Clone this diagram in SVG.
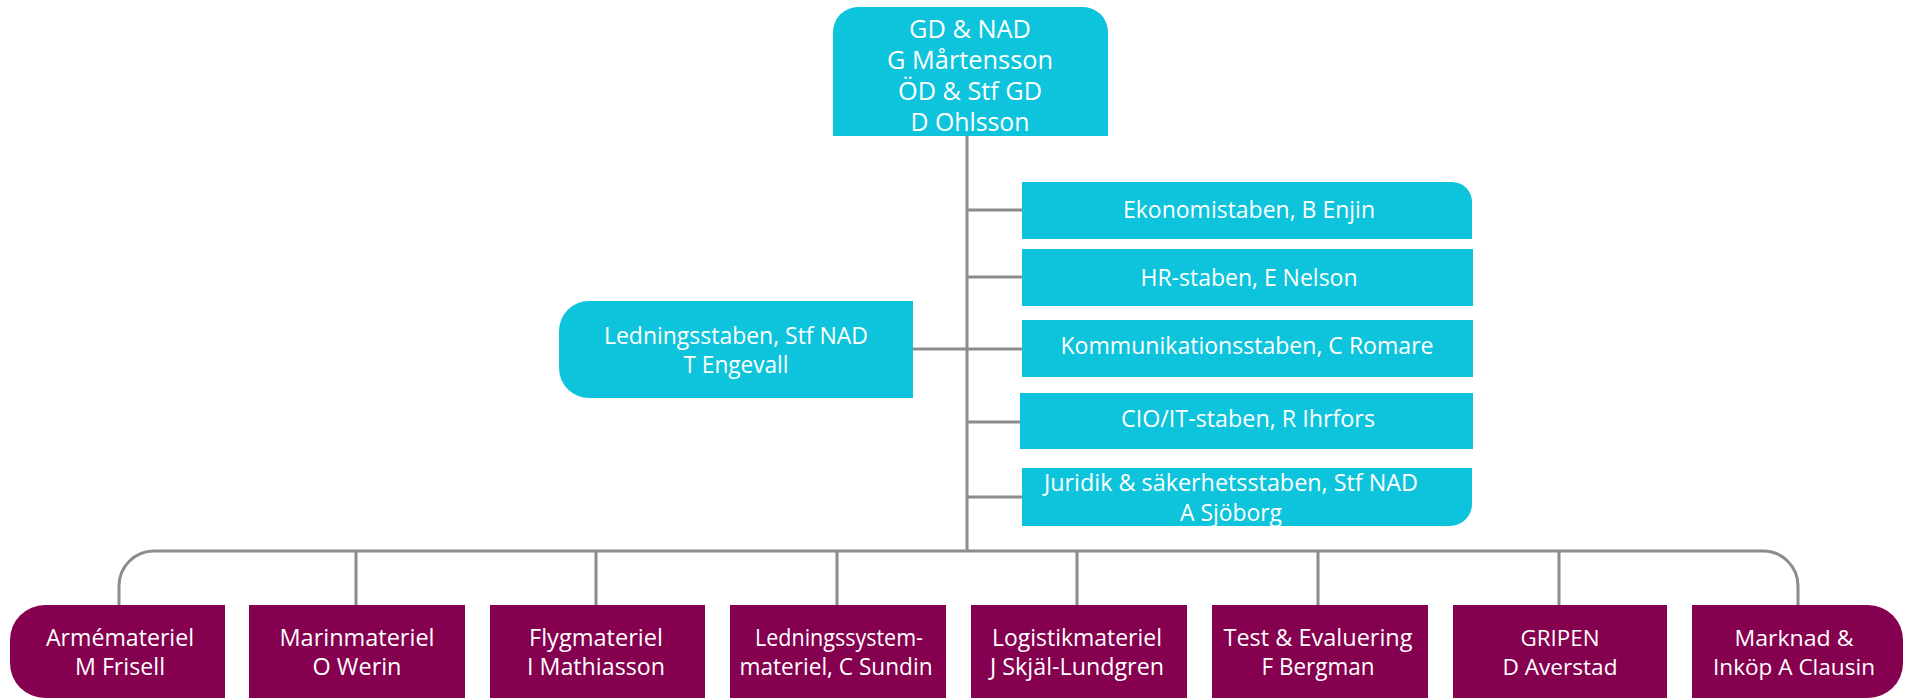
<svg xmlns="http://www.w3.org/2000/svg" width="1905" height="698" viewBox="0 0 1905 698">
<style>
.c{fill:#0EC4DC}
.p{fill:#860050}
.t{font-family:"Open Sans","Liberation Sans",sans-serif;fill:#ffffff;text-anchor:middle}
.k{stroke:#8C8C8C;stroke-width:3;fill:none}
</style>
<rect x="0" y="0" width="1905" height="698" fill="#ffffff"/>
<g id="connectors">
<path class="k" d="M967,136 V551"/>
<path class="k" d="M967,210 H1022 M967,277 H1022 M967,349 H1022 M967,422 H1022 M967,497 H1022"/>
<path class="k" d="M913,349 H967"/>
<path class="k" d="M119,605 V586 A35,35 0 0 1 154,551 H1763 A35,35 0 0 1 1798,586 V605"/>
<path class="k" d="M356,551 V605 M596,551 V605 M837,551 V605 M1077,551 V605 M1318,551 V605 M1559,551 V605"/>
</g>
<g id="gd">
<path class="c" d="M833,136 V32 A25,25 0 0 1 858,7 H1083 A25,25 0 0 1 1108,32 V136 Z"/>
<text class="t" font-size="25" x="970" y="38" textLength="122" lengthAdjust="spacingAndGlyphs">GD &amp; NAD</text>
<text class="t" font-size="25" x="970" y="69" textLength="166" lengthAdjust="spacingAndGlyphs">G Mårtensson</text>
<text class="t" font-size="25" x="970" y="100" textLength="144" lengthAdjust="spacingAndGlyphs">ÖD &amp; Stf GD</text>
<text class="t" font-size="25" x="970" y="131" textLength="119" lengthAdjust="spacingAndGlyphs">D Ohlsson</text>
</g>
<g id="ekonomi">
<path class="c" d="M1022,182 H1452 A20,20 0 0 1 1472,202 V239 H1022 Z"/>
<text class="t" font-size="23" x="1249" y="218" textLength="252" lengthAdjust="spacingAndGlyphs">Ekonomistaben, B Enjin</text>
</g>
<g id="hr">
<rect class="c" x="1022" y="249" width="451" height="57"/>
<text class="t" font-size="23" x="1249" y="286" textLength="217" lengthAdjust="spacingAndGlyphs">HR-staben, E Nelson</text>
</g>
<g id="kommunikation">
<rect class="c" x="1022" y="320" width="451" height="57"/>
<text class="t" font-size="23" x="1247" y="354" textLength="373" lengthAdjust="spacingAndGlyphs">Kommunikationsstaben, C Romare</text>
</g>
<g id="cio">
<rect class="c" x="1020" y="393" width="453" height="56"/>
<text class="t" font-size="23" x="1248" y="427" textLength="254" lengthAdjust="spacingAndGlyphs">CIO/IT-staben, R Ihrfors</text>
</g>
<g id="juridik">
<path class="c" d="M1022,468 H1472 V504 A22,22 0 0 1 1450,526 H1022 Z"/>
<text class="t" font-size="23" x="1231" y="491" textLength="374" lengthAdjust="spacingAndGlyphs">Juridik &amp; säkerhetsstaben, Stf NAD</text>
<text class="t" font-size="23" x="1231" y="521" textLength="102" lengthAdjust="spacingAndGlyphs">A Sjöborg</text>
</g>
<g id="ledningsstaben">
<path class="c" d="M913,301 V398 H589 A30,30 0 0 1 559,368 V331 A30,30 0 0 1 589,301 Z"/>
<text class="t" font-size="23" x="736" y="344" textLength="264" lengthAdjust="spacingAndGlyphs">Ledningsstaben, Stf NAD</text>
<text class="t" font-size="23" x="736" y="373" textLength="105" lengthAdjust="spacingAndGlyphs">T Engevall</text>
</g>
<g id="armemateriel">
<path class="p" d="M225,605 V698 H45 A35,35 0 0 1 10,663 V640 A35,35 0 0 1 45,605 Z"/>
<text class="t" font-size="23" x="120" y="646" textLength="148" lengthAdjust="spacingAndGlyphs">Armémateriel</text>
<text class="t" font-size="23" x="120" y="675" textLength="90" lengthAdjust="spacingAndGlyphs">M Frisell</text>
</g>
<g id="marinmateriel">
<rect class="p" x="249" y="605" width="216" height="93"/>
<text class="t" font-size="23" x="357" y="646" textLength="155" lengthAdjust="spacingAndGlyphs">Marinmateriel</text>
<text class="t" font-size="23" x="357" y="675" textLength="89" lengthAdjust="spacingAndGlyphs">O Werin</text>
</g>
<g id="flygmateriel">
<rect class="p" x="490" y="605" width="215" height="93"/>
<text class="t" font-size="23" x="596" y="646" textLength="134" lengthAdjust="spacingAndGlyphs">Flygmateriel</text>
<text class="t" font-size="23" x="596" y="675" textLength="138" lengthAdjust="spacingAndGlyphs">I Mathiasson</text>
</g>
<g id="ledningssystem">
<rect class="p" x="730" y="605" width="216" height="93"/>
<text class="t" font-size="23" x="839" y="646" textLength="168" lengthAdjust="spacingAndGlyphs">Ledningssystem-</text>
<text class="t" font-size="23" x="836" y="675" textLength="193" lengthAdjust="spacingAndGlyphs">materiel, C Sundin</text>
</g>
<g id="logistikmateriel">
<rect class="p" x="971" y="605" width="216" height="93"/>
<text class="t" font-size="23" x="1077" y="646" textLength="170" lengthAdjust="spacingAndGlyphs">Logistikmateriel</text>
<text class="t" font-size="23" x="1077" y="675" textLength="174" lengthAdjust="spacingAndGlyphs">J Skjäl-Lundgren</text>
</g>
<g id="test">
<rect class="p" x="1212" y="605" width="216" height="93"/>
<text class="t" font-size="23" x="1318" y="646" textLength="189" lengthAdjust="spacingAndGlyphs">Test &amp; Evaluering</text>
<text class="t" font-size="23" x="1318" y="675" textLength="113" lengthAdjust="spacingAndGlyphs">F Bergman</text>
</g>
<g id="gripen">
<rect class="p" x="1453" y="605" width="214" height="93"/>
<text class="t" font-size="22" x="1560" y="646" textLength="79" lengthAdjust="spacingAndGlyphs">GRIPEN</text>
<text class="t" font-size="22" x="1560" y="675" textLength="115" lengthAdjust="spacingAndGlyphs">D Averstad</text>
</g>
<g id="marknad">
<path class="p" d="M1692,605 H1868 A35,35 0 0 1 1903,640 V663 A35,35 0 0 1 1868,698 H1692 Z"/>
<text class="t" font-size="22" x="1794" y="646" textLength="119" lengthAdjust="spacingAndGlyphs">Marknad &amp;</text>
<text class="t" font-size="22" x="1794" y="675" textLength="162" lengthAdjust="spacingAndGlyphs">Inköp A Clausin</text>
</g>
</svg>
